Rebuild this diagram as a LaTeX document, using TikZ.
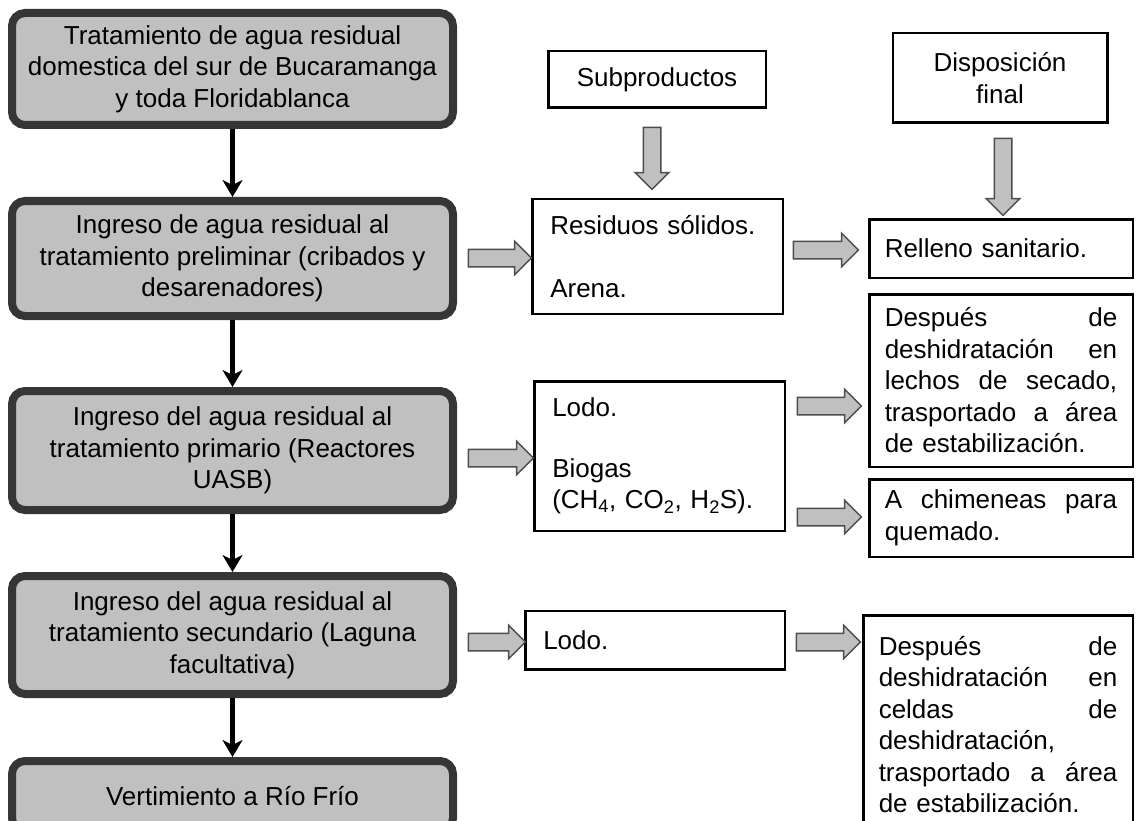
\documentclass[tikz,border=0pt]{standalone}
\usepackage{fontspec}
\setmainfont{Liberation Sans}
\usetikzlibrary{arrows.meta,shapes.arrows}
\setlength{\parindent}{0pt}

\definecolor{grisrelleno}{HTML}{C0C0C0}
\definecolor{grisborde}{HTML}{363636}
\definecolor{grisflecha}{HTML}{4D4D4D}

% renglon justificado: palabras separadas con \hfill
\newcommand{\justa}[2][232.5pt]{\leavevmode\hbox to #1{#2}}

\tikzset{
	every node/.style={font=\fontsize{26}{31.5}\selectfont},
	etapa/.style={draw=grisborde, fill=grisrelleno, line width=8pt, rounded corners=13pt, minimum width=441pt, inner sep=0pt, align=center},
	caja/.style={draw=black, line width=2.5pt, inner sep=0pt, align=center},
	lista/.style={caja, inner xsep=18pt, align=left},
	destino/.style={caja, inner xsep=15.5pt, align=left},
	flecha/.style={-{Stealth[length=17pt,width=20pt,inset=5pt]}, line width=5pt},
	bloque/.style={single arrow, draw=grisflecha, fill=grisrelleno, line width=1.5pt, inner xsep=0pt, inner ysep=8pt, single arrow head extend=8pt}
}

\begin{document}
\begin{tikzpicture}[x=1pt,y=-1pt]
	\useasboundingbox (0,0) rectangle (1137,821);

	\node[etapa, minimum height=112pt] (e1) at (232.5,69) {Tratamiento de agua residual\\domestica del sur de Bucaramanga\\y toda Floridablanca};
	\node[etapa, minimum height=115pt] (e2) at (232.5,258.5) {Ingreso de agua residual al\\tratamiento preliminar (cribados y\\desarenadores)};
	\node[etapa, minimum height=119pt] (e3) at (232.5,450.5) {Ingreso del agua residual al\\tratamiento primario (Reactores\\UASB)};
	\node[etapa, minimum height=118pt] (e4) at (232.5,635) {Ingreso del agua residual al\\tratamiento secundario (Laguna\\facultativa)};
	\node[etapa, minimum height=70pt] (e5) at (232.5,796) {Vertimiento a Río Frío};

	\path [flecha] (e1) edge (e2);
	\path [flecha] (e2) edge (e3);
	\path [flecha] (e3) edge (e4);
	\path [flecha] (e4) edge (e5);

	\node[caja, minimum width=217.5pt, minimum height=56.5pt] (sub) at (657,79.5) {Subproductos};
	\node[caja, minimum width=214.5pt, minimum height=89.5pt] (disp) at (1000,78) {Disposición\\final};

	\node[lista, text width=214.5pt, minimum height=114.5pt] (res) at (657.5,256.5) {Residuos sólidos.\\[31.5pt]Arena.};
	\node[lista, text width=214.5pt, minimum height=149.5pt] (lod1) at (659.5,456) {Lodo.\\[29.5pt]Biogas\\(CH\textsubscript{4}, CO\textsubscript{2}, H\textsubscript{2}S).};
	\node[lista, text width=223.5pt, minimum height=58.5pt] (lod2) at (655,640) {Lodo.};

	\node[destino, text width=232.5pt, minimum height=58.5pt] (rel) at (1001,248.5) {Relleno sanitario.};
	\node[destino, text width=232.5pt, minimum height=172.5pt] (lech) at (1001,380.5) {\justa{Después\hfill de}\\\justa{deshidratación\hfill en}\\\justa{lechos\hfill de\hfill secado,}\\\justa{trasportado\hfill a\hfill área}\\de estabilización.};
	\node[destino, text width=232.5pt, minimum height=77.5pt] (chim) at (1001,518) {\justa{A\hfill chimeneas\hfill para}\\quemado.};
	\node[destino, text width=238.5pt, minimum height=218.5pt] (celd) at (998,724.5) {\justa[238.5pt]{Después\hfill de}\\\justa[238.5pt]{deshidratación\hfill en}\\\justa[238.5pt]{celdas\hfill de}\\deshidratación,\\\justa[238.5pt]{trasportado\hfill a\hfill área}\\de estabilización.};

	\node[bloque, rotate=-90, minimum height=62pt] (b1) at (652,154) {};
	\node[bloque, rotate=-90, minimum height=77pt] (b2) at (1003,172.5) {};
	\node[bloque, minimum height=63pt] (b3) at (495.5,258) {};
	\node[bloque, minimum height=65pt] (b4) at (821.5,250) {};
	\node[bloque, minimum height=65pt] (b5) at (496.5,458) {};
	\node[bloque, minimum height=64pt] (b6) at (825,406) {};
	\node[bloque, minimum height=64pt] (b7) at (825,517) {};
	\node[bloque, minimum height=57pt] (b8) at (492.5,642) {};
	\node[bloque, minimum height=64pt] (b9) at (824,642) {};
\end{tikzpicture}
\end{document}
